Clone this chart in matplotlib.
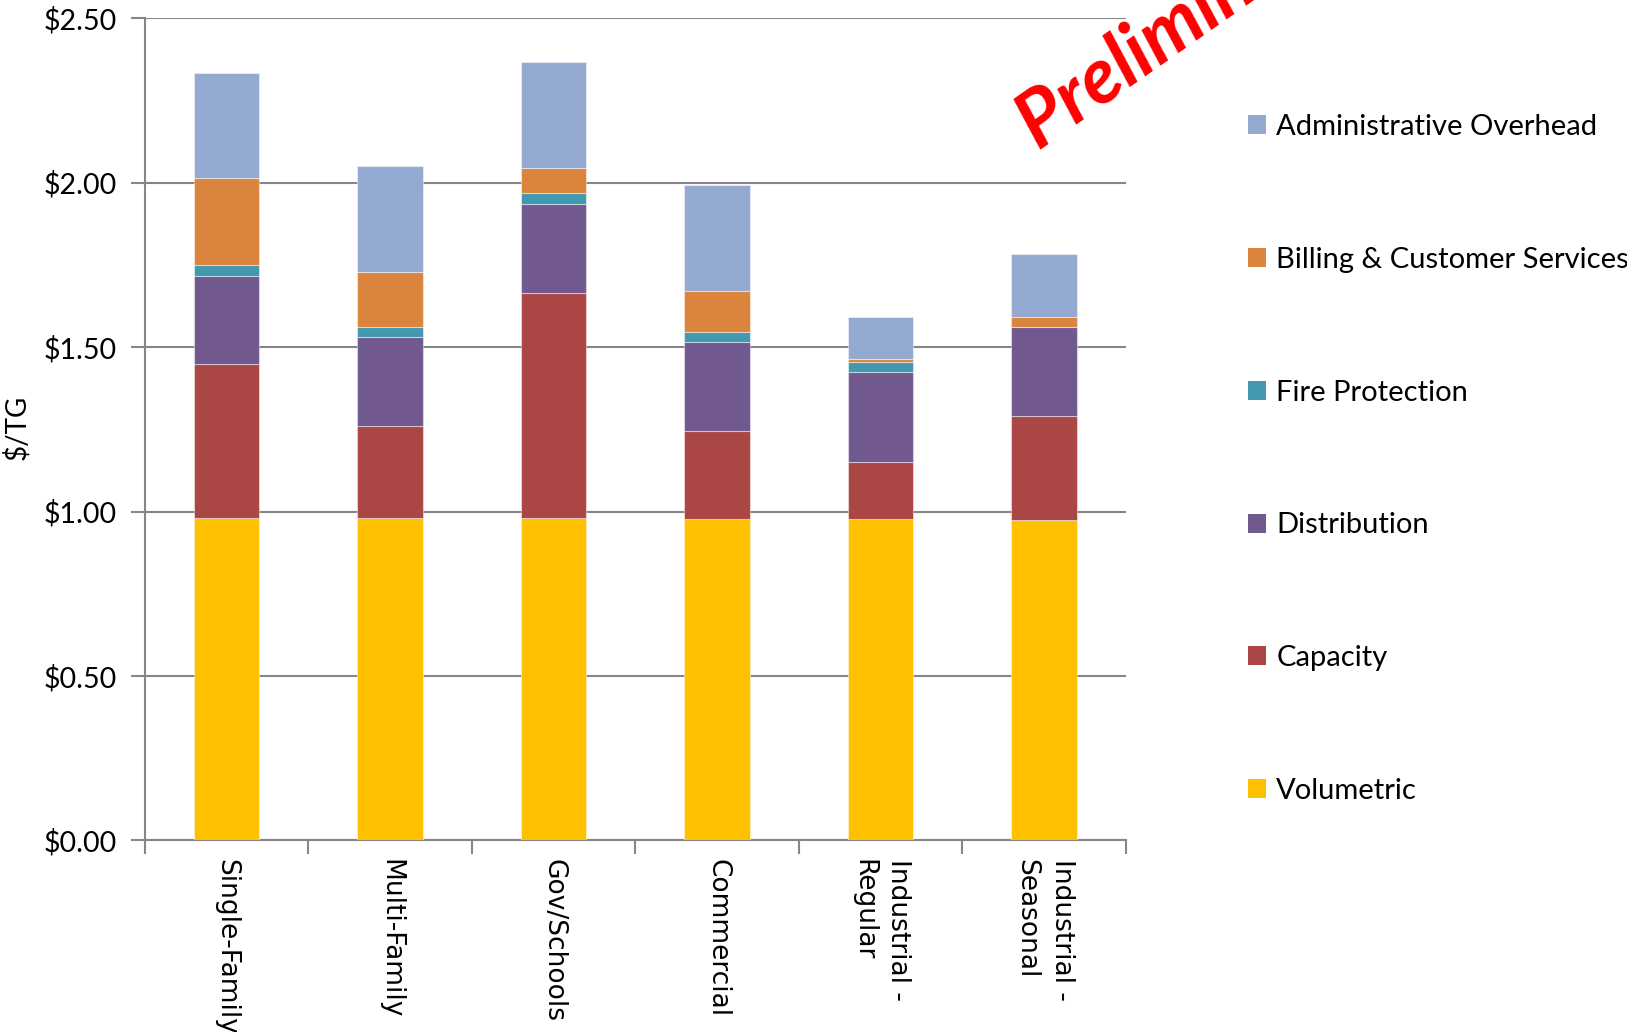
import matplotlib
matplotlib.use("Agg")
import matplotlib.pyplot as plt
import numpy as np
from matplotlib.patches import Patch

categories = ["Single-Family", "Multi-Family", "Gov/Schools", "Commercial",
              "Industrial -\nRegular", "Industrial -\nSeasonal"]
series_names = ["Volumetric", "Capacity", "Distribution", "Fire Protection",
                "Billing & Customer Services", "Administrative Overhead"]
volumetric = [0.979, 0.979, 0.979, 0.976, 0.977, 0.975]
capacity = [0.469, 0.281, 0.685, 0.269, 0.173, 0.315]
distribution = [0.269, 0.272, 0.272, 0.271, 0.273, 0.270]
fire_protection = [0.032, 0.030, 0.032, 0.031, 0.031, 0.000]
billing = [0.264, 0.167, 0.078, 0.124, 0.009, 0.031]
admin = [0.321, 0.322, 0.321, 0.321, 0.129, 0.193]
colors = ["#FFC000", "#AA4643", "#71588F", "#4198AF", "#DB843D", "#93A9CF"]
yticks = [0.0, 0.5, 1.0, 1.5, 2.0, 2.5]
ytick_labels = ["$0.00", "$0.50", "$1.00", "$1.50", "$2.00", "$2.50"]

series = [volumetric, capacity, distribution, fire_protection, billing, admin]

fig = plt.figure(figsize=(16.27, 10.32), dpi=100)
ax = fig.add_axes([0.0891, 0.1857, 0.6029, 0.7966])

x = np.arange(len(categories))
bottom = np.zeros(len(categories))
handles = []
for name, vals, c in zip(series_names, series, colors):
    vals = np.array(vals)
    ax.bar(x, vals, width=0.4, bottom=bottom, color=c,
           edgecolor=(1, 1, 1, 0.45), linewidth=0.8, zorder=3)
    bottom += vals
    handles.append(Patch(facecolor=c, edgecolor="none", label=name))

ax.set_xlim(-0.5, len(categories) - 0.5)
ax.set_ylim(0, 2.5)
ax.set_yticks(yticks)
ax.set_yticklabels(ytick_labels, fontsize=20.5, family="Lato")
ax.yaxis.grid(True, color="#868686", linewidth=1.5, zorder=0)
ax.set_axisbelow(True)

ax.set_xticks(np.arange(-0.5, len(categories), 1.0))
ax.set_xticklabels([])
ax.set_xticks(x, minor=True)
ax.set_xticklabels(categories, minor=True, rotation=-90, fontsize=19,
                   family="DejaVu Sans", va="top", ha="center",
                   multialignment="left", linespacing=1.45)
ax.tick_params(axis="x", which="minor", length=0, pad=13.5)
ax.tick_params(axis="x", which="major", length=10, width=1.5, color="#868686", direction="out")
ax.tick_params(axis="y", length=10, width=1.5, color="#868686", direction="out", pad=10.5)

for s in ["top", "right"]:
    ax.spines[s].set_visible(False)
for s in ["left", "bottom"]:
    ax.spines[s].set_color("#868686")
    ax.spines[s].set_linewidth(1.5)

fig.text(0.0098, 0.586, "$/TG", rotation=90, fontsize=20, family="Lato",
         va="center", ha="center")

leg = fig.legend(handles=handles[::-1], loc="center left",
                 bbox_to_anchor=(0.767, 0.5552), frameon=False,
                 prop={"family": "Lato", "size": 21}, labelspacing=3.66,
                 handlelength=0.62, handleheight=0.62, handletextpad=0.35,
                 borderpad=0, borderaxespad=0)

fig.text(1038 / 1627, 1 - 150 / 1032, "Preliminary", color="red", fontsize=56,
         fontweight="bold", fontstyle="italic", family="Lato", rotation=35,
         rotation_mode="anchor", ha="left", va="baseline")

fig.savefig("out.png", dpi=100)
